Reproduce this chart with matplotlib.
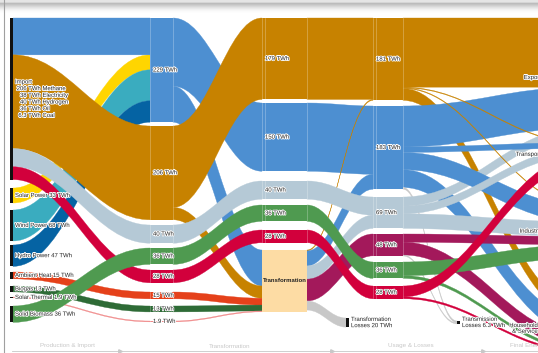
import matplotlib.pyplot as plt
import matplotlib.patheffects as pe
import numpy as np
from matplotlib.patches import PathPatch, Rectangle
from matplotlib.path import Path

plt.rcParams['font.family'] = ['Liberation Sans', 'DejaVu Sans']

# energy flows in TWh, listed in drawing order (later ones lie on top)
link_src = ['Solar', 'Wind', 'Hydro',
            'Import', 'Import', 'Import', 'Import',
            'Ambient', 'Biogas', 'SolarTh', 'Biomass',
            'E1', 'M1', 'E1', 'M1',
            'H1', 'B1', 'O1', 'A1', 'G1', 'ST1',
            'M2', 'E2',
            'T', 'T', 'T', 'T', 'T',
            'H2', 'B2', 'O2',
            'M3', 'E3', 'E3', 'Heat',
            'M3', 'E3', 'H3', 'E3', 'E3', 'M3', 'M3',
            'H3', 'H3', 'Heat', 'Heat', 'B3', 'B3',
            'O3', 'O3']
link_dst = ['E1', 'E1', 'E1',
            'E1', 'M1', 'H1', 'O1',
            'A1', 'G1', 'ST1', 'B1',
            'T', 'T', 'E2', 'M2',
            'H2', 'B2', 'O2', 'T', 'T', 'T',
            'M3', 'E3',
            'M3', 'E3', 'H3', 'Heat', 'TFL',
            'H3', 'B3', 'O3',
            'Households', 'Households', 'TML', 'TML',
            'Export', 'Export', 'Export', 'Transport', 'Industry', 'Transport', 'Industry',
            'Transport', 'Industry', 'Industry', 'Households', 'Industry', 'Households',
            'Households', 'Transport']
link_val = [33, 68, 47,
            81, 206, 40, 28,
            15, 13, 1.9, 36,
            79, 27, 150, 179,
            40, 36, 28, 15, 13, 1.9,
            179, 150,
            2, 33, 29, 48, 20,
            40, 36, 28,
            26, 39, 4, 2.3,
            152, 90, 20, 12, 38, 1.5, 1.5,
            17, 32, 18, 28, 30, 6,
            4, 24]

left_names = {'Solar': 'Solar Power', 'Wind': 'Wind Power', 'Hydro': 'Hydro Power',
              'Ambient': 'Ambient Heat', 'Biogas': 'Biogas', 'SolarTh': 'Solar Thermal',
              'Biomass': 'Solid Biomass'}
import_lines = ['Import', ' 206 TWh Methane', '   38 TWh Electricity', '   40 TWh Hydrogen',
                '   36 TWh Oil', '  6.3 TWh Coal']
right_names = {'Export': 'Export', 'Transport': 'Transport', 'Industry': 'Industry',
               'Households': 'Households\n& Services'}
loss_names = {'TFL': 'Transformation\nLosses', 'TML': 'Transmission\nLosses'}
stage_names = ['Production & Import', 'Transformation', 'Usage & Losses', 'Final Energy Demand']

# layout (pixels)
S = 0.455
col_x = {0: (10, 3), 1: (150, 23), 2: (262, 45), 3: (373, 30), 4: (580, 3)}
node_col = {'Import': 0, 'Solar': 0, 'Wind': 0, 'Hydro': 0, 'Ambient': 0, 'Biogas': 0,
            'SolarTh': 0, 'Biomass': 0,
            'E1': 1, 'M1': 1, 'H1': 1, 'B1': 1, 'O1': 1, 'A1': 1, 'G1': 1, 'ST1': 1,
            'M2': 2, 'E2': 2, 'H2': 2, 'B2': 2, 'O2': 2, 'T': 2,
            'M3': 3, 'E3': 3, 'H3': 3, 'Heat': 3, 'B3': 3, 'O3': 3,
            'Export': 4, 'Transport': 4, 'Industry': 4, 'Households': 4}
extra_x = {'TFL': (346, 3), 'TML': (457, 3)}
node_top = {'Import': 18, 'Solar': 188, 'Wind': 210, 'Hydro': 245, 'Ambient': 272,
            'Biogas': 286, 'SolarTh': 297, 'Biomass': 306,
            'E1': 18, 'M1': 126, 'H1': 225, 'B1': 248, 'O1': 270, 'A1': 292, 'G1': 306, 'ST1': 321,
            'M2': 18, 'E2': 103, 'H2': 181, 'B2': 205, 'O2': 230, 'T': 250,
            'M3': 18, 'E3': 106, 'H3': 197, 'Heat': 234, 'B3': 262, 'O3': 286,
            'Export': 18, 'Transport': 142, 'Industry': 204, 'Households': 305,
            'TFL': 318, 'TML': 321}
right_label_x = 541

BLUE, ORANGE, GREY, GREEN, RED = '#4d8fd1', '#c78200', '#b5c9d6', '#4f9a50', '#d2003c'
flow_color = {'Solar': '#ffd500', 'Wind': '#3aacbf', 'Hydro': '#0563a3', 'Ambient': '#e5411a',
              'Biogas': '#2e6b36', 'SolarTh': '#f08a8a', 'Biomass': GREEN,
              'E1': BLUE, 'E2': BLUE, 'E3': BLUE, 'M1': ORANGE, 'M2': ORANGE, 'M3': ORANGE,
              'H1': GREY, 'H2': GREY, 'H3': GREY, 'B1': GREEN, 'B2': GREEN, 'B3': GREEN,
              'O1': RED, 'O2': RED, 'O3': RED, 'A1': '#e5411a', 'G1': '#2e6b36', 'ST1': '#f08a8a',
              'Heat': '#a3195b', 'TFL': '#c8c8c8', 'TML': '#c8c8c8', 'T': '#fddca4'}


def node_x(n):
    return extra_x[n] if n in extra_x else col_x[node_col[n]]


def fmt(v):
    return f'{v:.1f}' if v < 10 else f'{v:.0f}'


nodes = list(dict.fromkeys(link_src + link_dst))
inflow = {n: 0.0 for n in nodes}
outflow = {n: 0.0 for n in nodes}
for s, d, v in zip(link_src, link_dst, link_val):
    outflow[s] += v
    inflow[d] += v
value = {n: max(inflow[n], outflow[n]) for n in nodes}

# stack links at each node, ordered by position of the other end
L = len(link_val)
y_out, y_in = {}, {}
for n in nodes:
    y = node_top[n]
    for i in sorted([i for i in range(L) if link_src[i] == n], key=lambda i: node_top[link_dst[i]]):
        y_out[i] = y
        y += link_val[i] * S
    y = node_top[n]
    for i in sorted([i for i in range(L) if link_dst[i] == n], key=lambda i: node_top[link_src[i]]):
        y_in[i] = y
        y += link_val[i] * S

fig = plt.figure(figsize=(5.38, 3.53), dpi=100)
ax = fig.add_axes([0, 0, 1, 1])

codes = [Path.MOVETO, Path.CURVE4, Path.CURVE4, Path.CURVE4, Path.LINETO,
         Path.CURVE4, Path.CURVE4, Path.CURVE4, Path.CLOSEPOLY]
for i in range(L):
    s, d = link_src[i], link_dst[i]
    x0 = sum(node_x(s))
    x1 = node_x(d)[0]
    h = link_val[i] * S
    a, b = y_out[i], y_in[i]
    c = (x1 - x0) * 0.4
    verts = [(x0, a), (x0 + c, a), (x1 - c, b), (x1, b), (x1, b + h),
             (x1 - c, b + h), (x0 + c, a + h), (x0, a + h), (x0, a)]
    if d == 'TML':
        col = flow_color['TML']
    elif s in ('Import', 'T'):
        col = flow_color[d]
    else:
        col = flow_color[s]
    ax.add_patch(PathPatch(Path(verts, codes), facecolor=col, edgecolor=col, lw=0.25, zorder=2))

halo = [pe.withStroke(linewidth=1.2, foreground='white')]
tkw = dict(fontsize=4.3, color='#222222', path_effects=halo, zorder=6)

for n in nodes:
    x, w = node_x(n)
    top, h = node_top[n], value[n] * S
    mid = top + h / 2
    col = node_col.get(n, -1)
    if n == 'T':
        ax.add_patch(Rectangle((x, top), w, h, facecolor=flow_color['T'], edgecolor='none', zorder=3))
        ax.text(x + w / 2, mid, 'Transformation', ha='center', va='center', fontsize=4.3,
                fontweight='bold', color='#222222', zorder=6)
    elif col in (1, 2, 3):
        ax.add_patch(Rectangle((x, top), w, h, facecolor=flow_color[n], edgecolor='none', zorder=3))
        for xl in (x, x + 3, x + w) if col > 1 else (x, x + w):
            ax.plot([xl, xl], [top, top + h], color='white', alpha=0.35, lw=0.5, zorder=4)
        ax.text(x + 3, mid, f'{fmt(value[n])} TWh', ha='left', va='center', **tkw)
    else:
        ax.add_patch(Rectangle((x, top), w, max(h, 1), facecolor='#111111', edgecolor='none', zorder=3))
        if n == 'Import':
            for k, line in enumerate(import_lines):
                ax.text(15, mid + (k - 2.5) * 6.7, line, ha='left', va='center', **tkw)
        elif n in left_names:
            ax.text(x + w + 2, mid, f'{left_names[n]} {fmt(value[n])} TWh', ha='left', va='center', **tkw)
        elif n in loss_names:
            ax.text(x + w + 2, mid, f'{loss_names[n]} {fmt(value[n])} TWh', ha='left', va='center',
                    linespacing=1.3, **tkw)
        elif n in right_names:
            ax.text(right_label_x, mid, right_names[n], ha='right', va='center',
                    multialignment='right', linespacing=1.2, **tkw)

# stage axis at the bottom
for name, xc in zip(stage_names, [67, 230, 411, 540]):
    ax.text(xc, 346, name, ha='center', va='center', fontsize=4.5, color='#c8c8c8', zorder=6)
ax.plot([12, 538], [350.5, 350.5], color='#c8c8c8', lw=0.6, zorder=6)
ax.plot([120, 332, 483], [350.5] * 3, ls='none', marker='>', ms=2.5, color='#c8c8c8', zorder=6)

# header shadow and page border
shade = np.array([0.90, 0.90, 0.84, 0.74, 0.77, 0.81, 0.85, 0.89, 0.92, 0.95, 0.97, 0.985, 0.995, 1, 1, 1])
img = np.repeat(shade[:, None, None], 3, axis=2)
ax.imshow(img, extent=(0, 538, 16, 0), aspect='auto', interpolation='bilinear', zorder=10)
ax.plot([4, 4], [0, 353], color='#a0a0a0', lw=0.8, zorder=11)

ax.set_xlim(0, 538)
ax.set_ylim(353, 0)
ax.axis('off')
fig.savefig('out.png', dpi=100, facecolor='white')
